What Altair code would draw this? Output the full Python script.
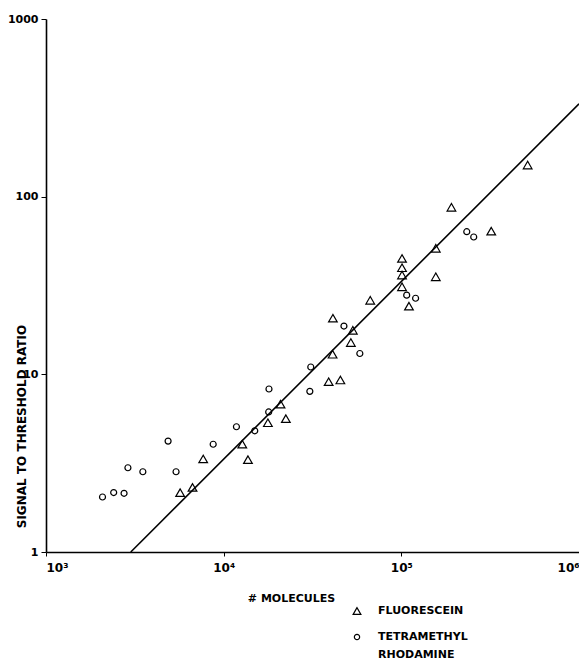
import altair as alt
import pandas as pd

# Fluorescein (triangles)
fl_x = [5690, 6680, 7670, 12730, 13700, 17740, 20900, 22390, 38990, 45380, 41020, 41200,
        53330, 51990, 66830, 110400, 100900, 100900, 100900, 100900, 156300, 156300,
        191400, 320700, 514000]
fl_y = [2.16, 2.31, 3.34, 4.05, 3.31, 5.34, 6.80, 5.63, 9.09, 9.29, 12.97, 20.7,
        17.7, 15.1, 26.1, 24.2, 31.1, 36.2, 39.8, 44.9, 35.4, 51.2,
        87.1, 64.0, 150.6]
# Tetramethyl rhodamine (circles)
rh_x = [2080, 2404, 2750, 2891, 3508, 4866, 5395, 8730, 11800, 14960, 17920, 17990,
        30550, 30920, 47530, 58400, 107200, 120300, 233500, 255500]
rh_y = [2.04, 2.16, 2.14, 2.98, 2.83, 4.21, 2.83, 4.04, 5.07, 4.81, 6.14, 8.27,
        8.02, 11.0, 18.7, 13.1, 27.9, 26.8, 63.5, 59.3]
# Fitted line
fit_x = [3000, 1000000]
fit_y = [1, 333]

x_ticks = [1000, 10000, 100000, 1000000]
x_tick_labels = ["10³", "10⁴", "10⁵", "10⁶"]
y_ticks = [1, 10, 100, 1000]
dyes = ["FLUORESCEIN", "TETRAMETHYL RHODAMINE"]
legend_lines = ["FLUORESCEIN", "TETRAMETHYL", "RHODAMINE"]
legend_rows = [0, 1, 1.7]

pts = pd.DataFrame({
    "x": fl_x + rh_x,
    "y": fl_y + rh_y,
    "dye": [dyes[0]] * len(fl_x) + [dyes[1]] * len(rh_x),
})
fit = pd.DataFrame({"x": fit_x, "y": fit_y})

FONT = "DejaVu Sans"

label_map = "{" + ",".join(f"'{v}':'{l}'" for v, l in zip(x_ticks, x_tick_labels)) + "}"

xscale = alt.Scale(type="log", domain=[1000, 1000000], nice=False)
yscale = alt.Scale(type="log", domain=[1, 1000], nice=False)

xaxis = alt.Axis(
    title="# MOLECULES", values=x_ticks, grid=False,
    labelExpr=f"{label_map}[datum.value]", labelFlush=True,
    labelFont=FONT, labelFontSize=12, labelFontWeight="bold", labelPadding=6,
    titleFont=FONT, titleFontSize=11, titleFontWeight="bold",
    titleX=245, titleY=46, titleAlign="center", titleBaseline="middle",
    tickSize=4, domainColor="black", domainWidth=1.6, tickColor="black",
    labelColor="black", titleColor="black",
)
yaxis = alt.Axis(
    title="SIGNAL TO THRESHOLD RATIO", values=y_ticks, grid=False, format="d",
    labelFont=FONT, labelFontSize=11, labelFontWeight="bold", labelPadding=3,
    titleFont=FONT, titleFontSize=12, titleFontWeight="bold",
    titleX=-25, titleY=407, titleAngle=270, titleAlign="center", titleBaseline="middle",
    tickSize=5, domainColor="black", domainWidth=1.6, tickColor="black",
    labelColor="black", titleColor="black",
)

line = alt.Chart(fit).mark_line(color="black", strokeWidth=1.6).encode(
    x=alt.X("x:Q", scale=xscale, axis=xaxis),
    y=alt.Y("y:Q", scale=yscale, axis=yaxis),
)

points = alt.Chart(pts).mark_point(filled=False, color="black", strokeWidth=1.2, opacity=1).encode(
    x=alt.X("x:Q", scale=xscale),
    y=alt.Y("y:Q", scale=yscale),
    shape=alt.Shape("dye:N", scale=alt.Scale(domain=dyes, range=["triangle-up", "circle"]), legend=None),
    size=alt.Size("dye:N", scale=alt.Scale(domain=dyes, range=[75, 36]), legend=None),
)

data_layer = alt.layer(line, points)

# Manual legend below the plot
leg_sym = pd.DataFrame({"dye": dyes, "row": legend_rows[:2]})
leg_txt = pd.DataFrame({"text": legend_lines, "row": legend_rows})
row_scale = alt.Scale(type="linear", domain=[0, 1], range=[592, 618])

legend_symbols = alt.Chart(leg_sym).mark_point(filled=False, color="black", strokeWidth=1.2, opacity=1).encode(
    x=alt.value(311),
    y=alt.Y("row:Q", scale=row_scale, axis=None),
    shape=alt.Shape("dye:N", scale=alt.Scale(domain=dyes, range=["triangle-up", "circle"]), legend=None),
    size=alt.Size("dye:N", scale=alt.Scale(domain=dyes, range=[60, 28]), legend=None),
)
legend_text = alt.Chart(leg_txt).mark_text(
    align="left", baseline="middle", font=FONT, fontSize=11, fontWeight="bold", color="black"
).encode(
    x=alt.value(332),
    y=alt.Y("row:Q", scale=row_scale, axis=None),
    text="text:N",
)

legend_layer = alt.layer(legend_symbols, legend_text)

chart = alt.layer(data_layer, legend_layer).resolve_scale(
    y="independent", shape="independent", size="independent"
).properties(
    width=533, height=533,
    autosize=alt.AutoSizeParams(type="none"),
    padding={"left": 38, "top": 11, "right": 0, "bottom": 114},
).configure_view(stroke=None)

chart.save("out.html", embed_options={"renderer": "svg", "actions": False})
